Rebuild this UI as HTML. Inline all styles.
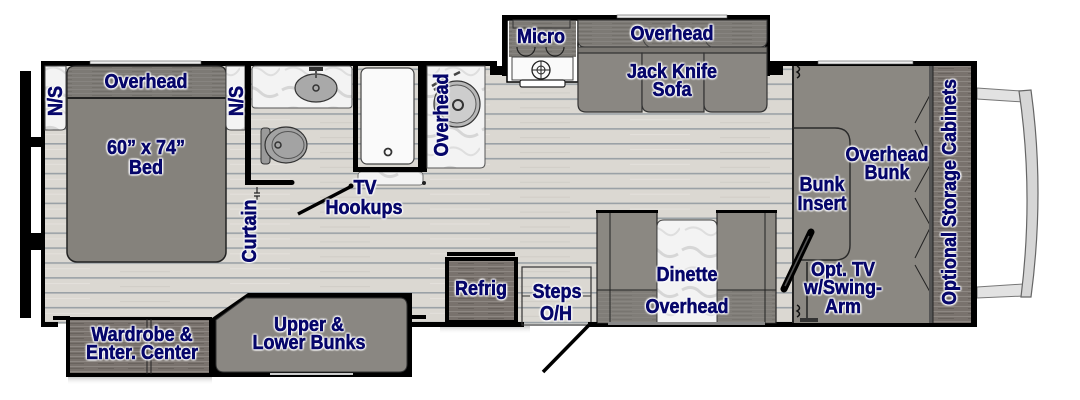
<!DOCTYPE html>
<html><head><meta charset="utf-8">
<style>
html,body{margin:0;padding:0;background:#fff;}
#c{position:relative;width:1080px;height:400px;overflow:hidden;background:#fff;}
svg{position:absolute;left:0;top:0;}
.t{position:absolute;font-family:"Liberation Sans",Arial,sans-serif;font-weight:bold;font-size:20px;line-height:20px;color:#06066a;white-space:nowrap;
-webkit-text-stroke:0.6px #06066a;
text-shadow:0 0 2px #fff,0 0 2px #fff,0 0 3px #fff,0 0 3px #fff,1px 1px 2px #fff,-1px -1px 2px #fff,1px -1px 2px #fff,-1px 1px 2px #fff;
transform:translate(-50%,-50%) scaleX(.9);}
.v{transform:translate(-50%,-50%) rotate(-90deg) scaleX(.9);}
</style></head><body>
<div id="c">
<svg width="1080" height="400" viewBox="0 0 1080 400">
<defs>
<pattern id="pl" x="0" y="68.5" width="200" height="14.9" patternUnits="userSpaceOnUse">
<rect width="200" height="14.9" fill="#dbd8d2"/>
<rect y="0" width="200" height="1.6" fill="#9aa1a6"/>
<rect x="30" y="6" width="60" height="1" fill="#e4e1dc"/>
<rect x="120" y="9" width="50" height="1" fill="#d0cdc7"/>
</pattern>
<pattern id="wd" width="30" height="5" patternUnits="userSpaceOnUse">
<rect width="30" height="5" fill="#79726d"/>
<rect y="1" width="30" height="1" fill="#8e8883"/>
<rect x="8" y="3" width="16" height="1" fill="#69635e"/>
</pattern>
<pattern id="oh" width="40" height="4" patternUnits="userSpaceOnUse">
<rect width="40" height="4" fill="#7d7a75"/>
<rect y="1" width="40" height="1" fill="#878480"/>
<rect x="12" y="3" width="20" height="1" fill="#73706b"/>
</pattern>
<pattern id="mb" width="40" height="40" patternUnits="userSpaceOnUse">
<rect width="40" height="40" fill="#f3f3f3"/>
<path d="M2 10 Q12 4 20 12 T38 14" stroke="#d6d6d6" stroke-width="3" fill="none"/>
<path d="M5 30 Q15 24 24 32 T40 28" stroke="#dedede" stroke-width="2" fill="none"/>
</pattern>
<linearGradient id="sh" x1="0" y1="0" x2="0" y2="1">
<stop offset="0" stop-color="#999" stop-opacity=".5"/>
<stop offset="1" stop-color="#fff" stop-opacity="0"/>
</linearGradient>
</defs>

<!-- left exterior bars -->
<rect x="20" y="71" width="11" height="247" fill="#000"/>
<rect x="31" y="137" width="10" height="10" fill="#000"/>
<rect x="31" y="233" width="10" height="17" fill="#000"/>

<!-- floor -->
<rect x="45" y="66" width="750" height="258" fill="url(#pl)"/>

<!-- shadows -->
<rect x="68" y="377" width="144" height="8" fill="url(#sh)"/>
<rect x="440" y="326" width="90" height="8" fill="url(#sh)"/>

<!-- cab exterior -->
<polygon points="977,88 1021,91 1023,102 977,99" fill="#e2e2e2" stroke="#777" stroke-width="1"/>
<polygon points="977,287 1023,284 1024,296 977,298" fill="#e2e2e2" stroke="#777" stroke-width="1"/>
<path d="M1019,91 L1031,90 Q1045,192 1031,297 L1021,297 Q1034,192 1019,91 Z" fill="#d6d6d6" stroke="#666" stroke-width="1.2"/>

<!-- walls -->
<rect x="41" y="61" width="456" height="5" fill="#000"/>
<rect x="90" y="61" width="111" height="3" fill="#eee" stroke="#555" stroke-width=".6"/>
<rect x="41" y="61" width="4" height="266" fill="#000"/>
<rect x="41" y="322" width="17" height="5" fill="#000"/>
<rect x="53" y="316" width="17" height="4" fill="#000"/>
<rect x="490" y="66" width="17" height="9" fill="#000"/>
<rect x="502" y="15" width="5" height="61" fill="#000"/>
<rect x="502" y="15" width="268" height="5" fill="#000"/>
<rect x="617" y="15" width="110" height="3" fill="#eee" stroke="#555" stroke-width=".6"/>
<rect x="765" y="15" width="5" height="61" fill="#000"/>
<rect x="765" y="66" width="18" height="9" fill="#000"/>
<rect x="770" y="61" width="207" height="5" fill="#000"/>
<rect x="818" y="61" width="95" height="3" fill="#eee" stroke="#555" stroke-width=".6"/>
<rect x="971" y="61" width="6" height="266" fill="#000"/>
<rect x="588" y="322" width="389" height="5" fill="#000"/>
<rect x="412" y="322" width="112" height="5" fill="#000"/>
<rect x="407" y="315" width="19" height="4" fill="#000"/>

<!-- wardrobe slideout -->
<rect x="66" y="317" width="146" height="60" fill="#000"/>
<rect x="70" y="320" width="139" height="53" fill="url(#wd)"/>
<line x1="147" y1="319" x2="147" y2="374" stroke="#222" stroke-width="1"/>
<line x1="151" y1="319" x2="151" y2="374" stroke="#222" stroke-width="1"/>
<!-- bunks slideout -->
<polygon points="212,318 248,293 412,293 412,377 212,377" fill="#000"/>
<path d="M216,320 L246,298 L400,298 Q407,298 407,306 L407,364 Q407,372 399,372 L224,372 Q216,372 216,364 Z" fill="#8a8782" stroke="#333" stroke-width="1"/>
<rect x="270" y="373" width="83" height="2" fill="#ccc"/>

<!-- bed -->
<rect x="67" y="66" width="159" height="196" rx="10" fill="#85827c" stroke="#222" stroke-width="1.5"/>
<path d="M67,98 L67,74 Q67,66 75,66 L218,66 Q226,66 226,74 L226,98 Z" fill="url(#oh)" stroke="#222" stroke-width="1.2"/>
<line x1="67" y1="98" x2="226" y2="98" stroke="#222" stroke-width="2"/>
<!-- N/S -->
<path d="M45,66 L66,66 L66,125 Q66,130 61,130 L45,130 Z" fill="url(#mb)" stroke="#444" stroke-width="1"/>
<path d="M226,66 L245,66 L245,130 L231,130 Q226,130 226,125 Z" fill="url(#mb)" stroke="#444" stroke-width="1"/>

<!-- bath -->
<rect x="252" y="66" width="100" height="42" rx="3" fill="url(#mb)" stroke="#555" stroke-width="1"/>
<ellipse cx="316" cy="88" rx="21" ry="14" fill="#a9a9a9" stroke="#333" stroke-width="1.2"/>
<circle cx="316" cy="88" r="3" fill="none" stroke="#333" stroke-width="1.5"/>
<rect x="309" y="67" width="14" height="4" fill="#333"/>
<line x1="316" y1="70" x2="316" y2="78" stroke="#555" stroke-width="2"/>
<rect x="261" y="128" width="9" height="36" rx="3" fill="#9a9a9a" stroke="#333" stroke-width="1"/>
<ellipse cx="286" cy="145" rx="21" ry="18" fill="#a3a3a3" stroke="#333" stroke-width="1.2"/>
<ellipse cx="288" cy="145" rx="16" ry="13.5" fill="none" stroke="#555" stroke-width="1"/>
<circle cx="278" cy="145" r="3" fill="none" stroke="#333" stroke-width="1.5"/>
<rect x="245" y="61" width="6" height="124" fill="#000"/>
<rect x="245" y="180" width="47" height="5" fill="#000"/>
<circle cx="292" cy="182.5" r="2.5" fill="#000"/>
<path d="M257,187 l0,6 m-3,0 h6 m-6,3 h6 m-3,0 v4" stroke="#222" stroke-width="1.2" fill="none"/>

<!-- shower -->
<rect x="358" y="172" width="65" height="13" rx="3" fill="url(#mb)" stroke="#555" stroke-width=".8"/>
<rect x="361" y="68" width="53" height="96" rx="6" fill="#fafafa" stroke="#444" stroke-width="1.2"/>
<circle cx="388" cy="152" r="3.5" fill="none" stroke="#333" stroke-width="1.8"/>
<rect x="353" y="61" width="5" height="111" fill="#000"/>
<rect x="353" y="167" width="74" height="5" fill="#000"/>
<rect x="418" y="61" width="9" height="111" fill="#000"/>
<circle cx="424" cy="183" r="2" fill="#222"/>

<!-- kitchen counter -->
<path d="M427,66 L485,66 L485,163 Q485,168 480,168 L427,168 Z" fill="url(#mb)" stroke="#555" stroke-width="1"/>
<circle cx="457" cy="104" r="23" fill="#b8b8b8" stroke="#333" stroke-width="1.2"/>
<circle cx="457" cy="104" r="19" fill="#cdcdcd" stroke="#555" stroke-width="1"/>
<circle cx="458" cy="105" r="5" fill="none" stroke="#333" stroke-width="2"/>
<path d="M432,86 L445,78 M434,90 L447,82 M454,75 L460,72" stroke="#444" stroke-width="2.5"/>

<!-- micro / range -->
<rect x="507" y="20" width="71" height="62" fill="#fff" stroke="#000" stroke-width="1.5"/>
<rect x="509" y="21" width="67" height="36" fill="url(#oh)"/>
<rect x="513" y="20" width="57" height="8" fill="none" stroke="#333" stroke-width="1"/>
<rect x="512" y="57" width="61" height="23" fill="#fafafa" stroke="#444" stroke-width="1"/>
<rect x="520" y="80" width="45" height="7" rx="2" fill="#fff" stroke="#222" stroke-width="1.2"/>
<path d="M517,47 a9,9 0 0,0 18,0 M546,47 a9,9 0 0,0 18,0" fill="none" stroke="#222" stroke-width="1.2"/>
<circle cx="541" cy="70" r="9" fill="none" stroke="#222" stroke-width="1.3"/>
<circle cx="541" cy="70" r="4" fill="none" stroke="#222" stroke-width="1"/>
<path d="M532,70 h18 M541,61 v18" stroke="#222" stroke-width="1"/>

<!-- sofa -->
<path d="M578,20 L767,20 L767,40 Q767,47 760,47 L585,47 Q578,47 578,40 Z" fill="url(#oh)" stroke="#333" stroke-width="1"/>
<rect x="578" y="47" width="189" height="6" fill="#7a7772" stroke="#333" stroke-width="1"/>
<path d="M578,53 L642,53 L642,112 L586,112 Q578,112 578,104 Z" fill="#8a8782" stroke="#333" stroke-width="1.2"/>
<path d="M642,53 L704,53 L704,112 L650,112 Q642,112 642,104 Z" fill="#8a8782" stroke="#333" stroke-width="1.2"/>
<path d="M704,53 L767,53 L767,104 Q767,112 759,112 L712,112 Q704,112 704,104 Z" fill="#8a8782" stroke="#333" stroke-width="1.2"/>
<path d="M642,30 Q642,45 650,47 M704,30 Q704,45 712,47" fill="none" stroke="#444" stroke-width="1"/>

<!-- front bunk area -->
<rect x="793" y="66" width="140" height="257" fill="#8b8882"/>
<line x1="793" y1="66" x2="793" y2="323" stroke="#222" stroke-width="2"/>
<path d="M793,128 L835,128 Q850,128 850,143 L850,245 Q850,260 835,260 L793,260" fill="none" stroke="#2a2a2a" stroke-width="1.4"/>
<path d="M930,95 L915,123 M915,130 L930,160 M930,165 L915,192 M915,198 L930,225 M930,228 L915,258 M915,265 L930,292" stroke="#222" stroke-width="1"/>
<rect x="929" y="66" width="4" height="257" fill="#555"/>
<rect x="933" y="66" width="38" height="257" fill="url(#wd)"/>
<line x1="933" y1="66" x2="933" y2="323" stroke="#222" stroke-width="1"/>
<path d="M797,66 q5,3 0,6 q5,3 0,6 M797,305 q5,3 0,6 q5,3 0,6" fill="none" stroke="#111" stroke-width="1.5"/>
<!-- TV swing arm -->
<line x1="807" y1="262" x2="807" y2="319" stroke="#222" stroke-width="1.5"/>
<rect x="800" y="318" width="18" height="4" fill="#333"/>
<line x1="784" y1="289" x2="811" y2="232" stroke="#000" stroke-width="7" stroke-linecap="round"/>
<line x1="785" y1="286" x2="809" y2="236" stroke="#555" stroke-width="1.5"/>

<!-- dinette -->
<rect x="597" y="212" width="60" height="111" fill="#8b8882" stroke="#222" stroke-width="1.2"/>
<rect x="717" y="212" width="59" height="111" fill="#8b8882" stroke="#222" stroke-width="1.2"/>
<rect x="598" y="290" width="58" height="33" fill="url(#oh)" opacity=".8"/>
<rect x="718" y="290" width="57" height="33" fill="url(#oh)" opacity=".8"/>
<line x1="597" y1="290" x2="776" y2="290" stroke="#222" stroke-width="1"/>
<line x1="610" y1="212" x2="610" y2="323" stroke="#222" stroke-width="1"/>
<line x1="765" y1="212" x2="765" y2="323" stroke="#222" stroke-width="1"/>
<rect x="596" y="210" width="62" height="3" fill="#000"/>
<rect x="716" y="210" width="61" height="3" fill="#000"/>
<path d="M657,323 L657,227 Q657,220 664,220 L710,220 Q717,220 717,227 L717,323 Z" fill="url(#mb)" stroke="#444" stroke-width="1"/>
<rect x="608" y="322" width="157" height="3" fill="#888"/>

<!-- refrig -->
<rect x="447" y="252" width="68" height="4" fill="#000"/>
<rect x="447" y="259" width="69" height="63" fill="url(#wd)" stroke="#000" stroke-width="4"/>
<!-- steps -->
<rect x="522" y="267" width="69" height="58" fill="none" stroke="#333" stroke-width="1.2"/>
<path d="M522,296 h8 M583,296 h8" stroke="#333" stroke-width="1"/>
<rect x="589" y="322" width="8" height="5" fill="#000"/>
<line x1="589" y1="325" x2="543" y2="372" stroke="#000" stroke-width="3.5"/>

<!-- TV hookups -->
<line x1="298" y1="214" x2="350" y2="187" stroke="#000" stroke-width="3.5"/>
<circle cx="351" cy="186" r="2.5" fill="#000"/>
</svg>

<div class="t" style="left:146px;top:82px">Overhead</div>
<div class="t" style="left:146px;top:148px">60” x 74”</div>
<div class="t" style="left:146px;top:168px">Bed</div>
<div class="t v" style="left:56px;top:101px">N/S</div>
<div class="t v" style="left:237px;top:101px">N/S</div>
<div class="t v" style="left:250px;top:231px">Curtain</div>
<div class="t" style="left:365px;top:188px">TV</div>
<div class="t" style="left:364px;top:208px">Hookups</div>
<div class="t v" style="left:442px;top:115px">Overhead</div>
<div class="t" style="left:541px;top:37px">Micro</div>
<div class="t" style="left:672px;top:34px">Overhead</div>
<div class="t" style="left:672px;top:72px">Jack Knife</div>
<div class="t" style="left:672px;top:90px">Sofa</div>
<div class="t" style="left:887px;top:155px">Overhead</div>
<div class="t" style="left:887px;top:173px">Bunk</div>
<div class="t" style="left:822px;top:185px">Bunk</div>
<div class="t" style="left:822px;top:204px">Insert</div>
<div class="t" style="left:843px;top:270px">Opt. TV</div>
<div class="t" style="left:843px;top:288px">w/Swing-</div>
<div class="t" style="left:843px;top:307px">Arm</div>
<div class="t v" style="left:950px;top:192px">Optional Storage Cabinets</div>
<div class="t" style="left:687px;top:275px">Dinette</div>
<div class="t" style="left:687px;top:307px">Overhead</div>
<div class="t" style="left:481px;top:289px">Refrig</div>
<div class="t" style="left:557px;top:292px">Steps</div>
<div class="t" style="left:556px;top:314px">O/H</div>
<div class="t" style="left:309px;top:325px">Upper &amp;</div>
<div class="t" style="left:309px;top:343px">Lower Bunks</div>
<div class="t" style="left:142px;top:335px">Wardrobe &amp;</div>
<div class="t" style="left:142px;top:353px">Enter. Center</div>
</div>
</body></html>
